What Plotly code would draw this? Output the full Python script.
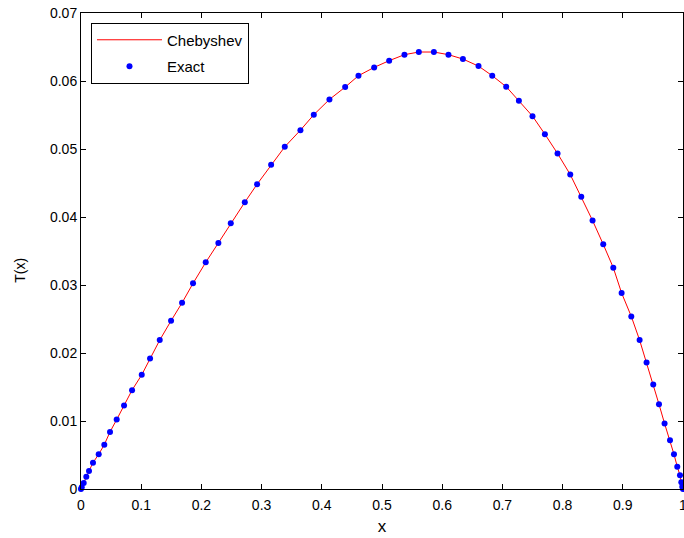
import plotly.graph_objects as go

# Values
x_nodes = [0.0, 0.0012, 0.0045, 0.0088, 0.0133, 0.0199, 0.0294, 0.0387, 0.0482, 0.0593,
           0.0715, 0.0848, 0.1009, 0.1147, 0.1308, 0.1496, 0.1679, 0.1861, 0.2072, 0.2282,
           0.2488, 0.2721, 0.2925, 0.3158, 0.3385, 0.3645, 0.3867, 0.4127, 0.4388, 0.4609,
           0.4870, 0.5119, 0.5373, 0.5612, 0.5862, 0.6104, 0.6344, 0.6603, 0.6831, 0.7063,
           0.7274, 0.7500, 0.7706, 0.7916, 0.8127, 0.8310, 0.8498, 0.8675, 0.8842, 0.8980,
           0.9141, 0.9279, 0.9395, 0.9506, 0.9601, 0.9694, 0.9784, 0.9850, 0.9905, 0.9950,
           0.9972, 0.9988, 1.0]
t_values = [0.0, 0.00025, 0.0009, 0.0018, 0.00265, 0.00387, 0.00511, 0.00652, 0.00840, 0.01021,
            0.01227, 0.01454, 0.01679, 0.01919, 0.02190, 0.02474, 0.02739, 0.03024, 0.03333, 0.03619,
            0.03907, 0.04217, 0.04482, 0.04767, 0.05032, 0.05277, 0.05504, 0.05729, 0.05910, 0.06078,
            0.06200, 0.06299, 0.06387, 0.06426, 0.06426, 0.06387, 0.06323, 0.06219, 0.06078, 0.05916,
            0.05710, 0.05483, 0.05218, 0.04934, 0.04624, 0.04296, 0.03947, 0.03598, 0.03255, 0.02882,
            0.02538, 0.02190, 0.01860, 0.01536, 0.01247, 0.00962, 0.00717, 0.00511, 0.00328, 0.00202,
            0.00099, 0.00034, 0.0]

series_names = ["Chebyshev", "Exact"]
x_title = "x"
y_title = "T(x)"
x_tick_vals = [0, 0.1, 0.2, 0.3, 0.4, 0.5, 0.6, 0.7, 0.8, 0.9, 1.0]
x_tick_text = ["0", "0.1", "0.2", "0.3", "0.4", "0.5", "0.6", "0.7", "0.8", "0.9", "1"]
y_tick_vals = [0, 0.01, 0.02, 0.03, 0.04, 0.05, 0.06, 0.07]
y_tick_text = ["0", "0.01", "0.02", "0.03", "0.04", "0.05", "0.06", "0.07"]

fig = go.Figure()
fig.add_trace(go.Scatter(x=x_nodes, y=t_values, mode="lines", name=series_names[0],
                         line=dict(color="#ff0000", width=1), legendgroup="a"))
fig.add_trace(go.Scatter(x=x_nodes, y=t_values, mode="markers", name=series_names[1],
                         marker=dict(color="#0000ff", size=6), cliponaxis=False, legendgroup="b"))

axis_common = dict(showline=True, linecolor="black", linewidth=1, mirror="ticks",
                   ticks="inside", ticklen=5, tickcolor="black", tickwidth=1,
                   showgrid=False, zeroline=False, automargin=False)

fig.update_layout(
    width=684, height=538,
    margin=dict(l=81, r=1, t=13, b=49, autoexpand=False),
    paper_bgcolor="white", plot_bgcolor="white",
    font=dict(family="Liberation Sans, Arial, sans-serif", size=14, color="black"),
    xaxis=dict(range=[0, 1], tickvals=x_tick_vals, ticktext=x_tick_text,
               ticklabelstandoff=3, ticklabeloverflow="allow",
               title=dict(text=x_title, standoff=8), **axis_common),
    yaxis=dict(range=[0, 0.07], tickvals=y_tick_vals, ticktext=y_tick_text,
               ticklabeloverflow="allow", **axis_common),
    legend=dict(x=0.0166, y=0.98, xanchor="left", yanchor="top",
                bordercolor="black", borderwidth=1, bgcolor="white",
                itemwidth=65, tracegroupgap=4, traceorder="grouped",
                font=dict(size=15)),
    showlegend=True,
    annotations=[dict(text=y_title, textangle=-90, xref="paper", yref="paper",
                      x=-0.1014, y=0.4606, xanchor="center", yanchor="middle",
                      showarrow=False, font=dict(size=14))],
)

fig.write_html("out.html")
